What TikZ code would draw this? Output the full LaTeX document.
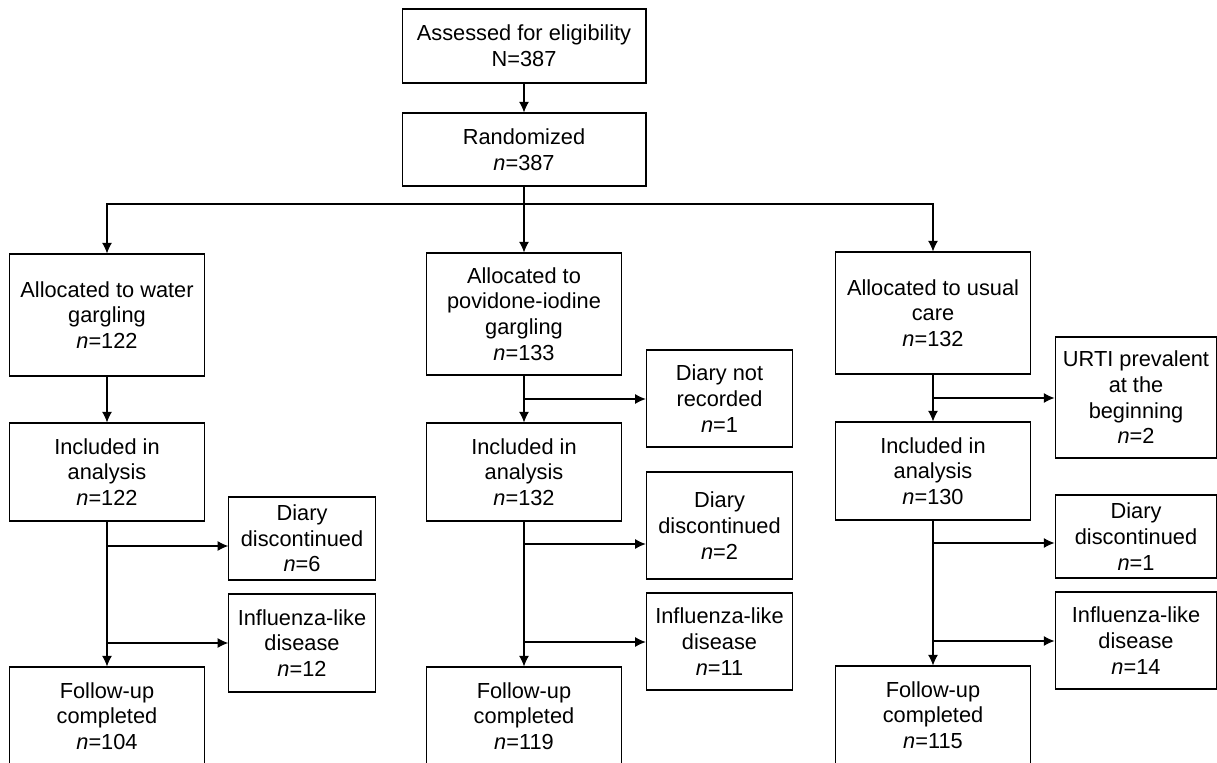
\documentclass[tikz,border=0pt]{standalone}
\usepackage{fontspec}
\setmainfont{Liberation Sans}
\usetikzlibrary{arrows.meta,calc}
\tikzset{
   flow node/.style={rectangle,draw,align=center,minimum width=3.9cm,inner sep=2pt,
                     font=\fontsize{12.4}{14.6}\selectfont},
   side node/.style={flow node,minimum width=2.93cm},
   far node/.style={flow node,minimum width=3.24cm}
}
\newcommand{\nval}[1]{\textit{n}=#1}

\begin{document}
\begin{tikzpicture}[x=0.02cm,y=-0.02cm,
                    ->,>={Latex[length=6pt,width=5.6pt]},line width=0.6pt]
\useasboundingbox (0,0) rectangle (1217,763);
\clip (0,0) rectangle (1217,763);
\node[flow node,minimum width=4.88cm,minimum height=1.48cm] (elig) at (524,46) {Assessed for eligibility\\N=387};
\node[flow node,minimum width=4.88cm,minimum height=1.46cm] (rand) at (524,149.5) {Randomized\\\nval{387}};
%
\node[flow node,minimum height=2.44cm] (al1) at (107,315) {Allocated to water\\gargling\\\nval{122}};
\node[flow node,minimum height=2.44cm] (al2) at (524,314) {Allocated to\\povidone-iodine\\gargling\\\nval{133}};
\node[flow node,minimum height=2.44cm] (al3) at (933,313) {Allocated to usual\\care\\\nval{132}};
%
\node[flow node,minimum height=1.96cm] (in1) at (107,472) {Included in\\analysis\\\nval{122}};
\node[flow node,minimum height=1.96cm] (in2) at (524,472) {Included in\\analysis\\\nval{132}};
\node[flow node,minimum height=1.96cm] (in3) at (933,471) {Included in\\analysis\\\nval{130}};
%
\node[flow node,minimum height=1.96cm] (fu1) at (107,716) {Follow-up\\completed\\\nval{104}};
\node[flow node,minimum height=1.96cm] (fu2) at (524,716) {Follow-up\\completed\\\nval{119}};
\node[flow node,minimum height=1.96cm] (fu3) at (933,715) {Follow-up\\completed\\\nval{115}};
%
\node[side node,minimum height=1.66cm] (dd1) at (302,538.5) {Diary\\discontinued\\\nval{6}};
\node[side node,minimum height=1.96cm] (il1) at (302,643) {Influenza-like\\disease\\\nval{12}};
\node[side node,minimum height=1.94cm] (nr2) at (719.5,398.5) {Diary not\\recorded\\\nval{1}};
\node[side node,minimum height=2.14cm] (dd2) at (719.5,525.5) {Diary\\discontinued\\\nval{2}};
\node[side node,minimum height=1.94cm] (il2) at (719.5,641.5) {Influenza-like\\disease\\\nval{11}};
\node[far node,minimum height=2.42cm] (ur3) at (1136,397.5) {URTI prevalent\\at the\\beginning\\\nval{2}};
\node[far node,minimum height=1.66cm] (dd3) at (1136,536.5) {Diary\\discontinued\\\nval{1}};
\node[far node,minimum height=1.94cm] (il3) at (1136,640.5) {Influenza-like\\disease\\\nval{14}};
%
\coordinate (split) at (524,204);
\draw[-] (rand) -- (split);
\draw (split) -| (al1);
\draw (split) -| (al3);
\path
  (elig) edge (rand)
  (split) edge (al2)
  (al1) edge (in1) (in1) edge (fu1)
  (al2) edge (in2) (in2) edge (fu2)
  (al3) edge (in3) (in3) edge (fu3)
  ;
\foreach \x/\y/\n in {107/546/dd1, 107/643/il1, 524/399/nr2, 524/544/dd2,
                      524/642/il2, 933/398/ur3, 933/543/dd3, 933/641/il3}
  {\coordinate (br) at (\x,\y);
   \draw (br) -- (br -| \n.west);}
\end{tikzpicture}
\end{document}
